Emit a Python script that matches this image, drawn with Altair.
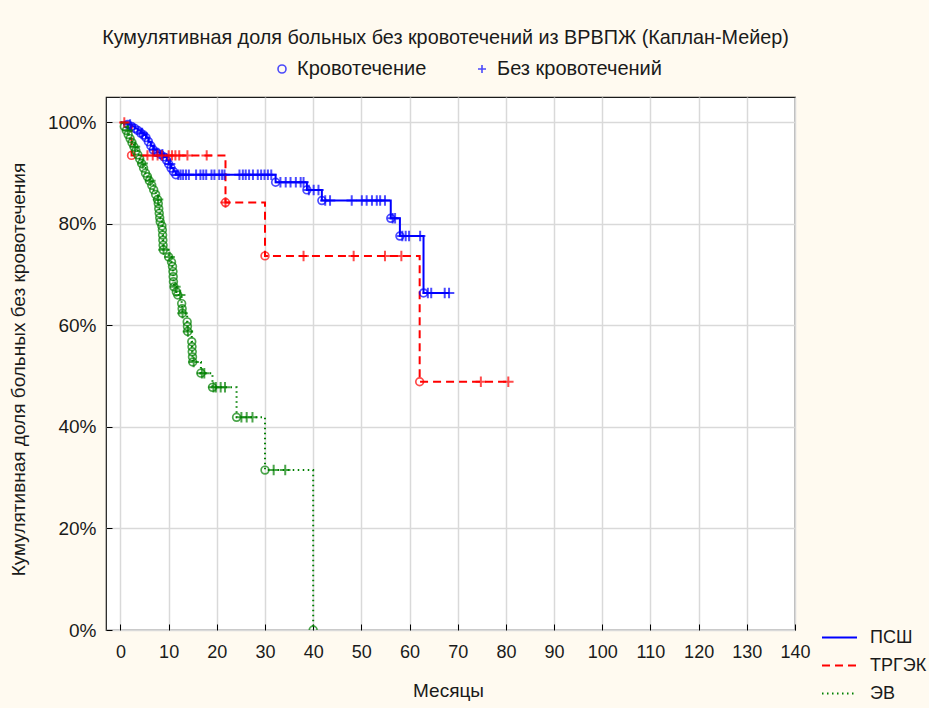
import altair as alt
import pandas as pd

FONT = "Liberation Sans, Arial, sans-serif"

GROUPS = ["ПСШ", "ТРГЭК", "ЭВ"]
COLORS = ["#0000ff", "#ff0000", "#008000"]
DASHES = [[1, 0], [8, 5], [1.5, 3.5]]
KINDS = ["Кровотечение", "Без кровотечений"]
PLUS = "M-1,0H1M0,-1V1"

# ПСШ: bleeding events (month, survival after event) and censored months
psh_event_t = [1.5, 2.3, 3.0, 3.6, 4.2, 4.8, 5.3, 5.8, 6.3, 6.8, 7.5, 8.3, 9.0,
               9.6, 10.0, 10.5, 11.0, 11.5, 32.2, 38.7, 41.8, 56.1, 58.0, 62.9]
psh_event_s = [0.996, 0.992, 0.988, 0.984, 0.979, 0.975, 0.970, 0.962, 0.954,
               0.946, 0.941, 0.937, 0.932, 0.925, 0.918, 0.910, 0.903, 0.897,
               0.882, 0.867, 0.846, 0.811, 0.776, 0.664]
psh_cens_t = [2.0, 4.5, 7.0, 8.7, 10.3, 12.0, 12.5, 13.0, 13.6, 14.2, 15.7, 16.6,
              17.2, 17.8, 18.9, 19.5, 20.5, 21.1, 21.6, 24.7, 25.4, 26.0, 26.7,
              27.5, 28.5, 29.2, 29.9, 30.6, 31.3, 33.2, 34.3, 35.3, 36.4, 37.4,
              38.0, 39.1, 40.1, 41.1, 42.5, 43.5, 48.0, 50.1, 51.1, 52.2, 53.2,
              53.9, 54.9, 56.5, 57.0, 58.5, 59.2, 59.9, 62.2, 63.8, 64.5, 67.3, 68.2]

# ТРГЭК
trg_event_t = [2.3, 21.8, 30.0, 62.1]
trg_event_s = [0.935, 0.842, 0.737, 0.489]
trg_cens_t = [0.8, 5.6, 6.7, 7.7, 8.6, 10.0, 10.7, 11.4, 12.2, 13.9, 17.9, 21.8,
              38.0, 48.4, 54.9, 58.3, 74.8, 80.5]

# ЭВ
ev_event_t = [0.8, 1.2, 1.6, 2.0, 2.4, 2.8, 3.2, 3.6, 4.0, 4.4, 4.8, 5.2, 5.6, 6.0,
              6.5, 6.9, 7.3, 7.7, 7.85, 7.95, 8.05, 8.15, 8.25, 8.6, 8.7, 8.75,
              8.8, 8.85, 8.9, 10.0, 10.6, 10.8, 10.9, 10.95, 11.0, 11.1, 11.6,
              11.9, 12.7, 12.8, 12.85, 13.85, 13.9, 13.95, 14.8, 14.85, 14.9,
              14.95, 15.0, 16.7, 19.1, 24.1, 30.0, 40.0]
ev_event_s = [0.992, 0.984, 0.976, 0.968, 0.960, 0.952, 0.944, 0.936, 0.928,
              0.919, 0.910, 0.900, 0.893, 0.885, 0.876, 0.867, 0.858, 0.848,
              0.840, 0.830, 0.821, 0.812, 0.804, 0.796, 0.788, 0.778, 0.768,
              0.758, 0.749, 0.735, 0.725, 0.716, 0.706, 0.696, 0.686, 0.676,
              0.666, 0.660, 0.643, 0.633, 0.624, 0.607, 0.598, 0.588, 0.568,
              0.558, 0.548, 0.538, 0.528, 0.506, 0.478, 0.419, 0.315, 0.0]
ev_cens_t = [1.5, 3.0, 4.6, 6.2, 7.8, 8.95, 10.2, 11.4, 12.4, 12.9, 14.0, 15.2,
             16.9, 17.4, 19.3, 19.8, 20.8, 21.7, 25.1, 26.2, 27.4, 31.8, 34.2]

series = [
    ("ПСШ", psh_event_t, psh_event_s, psh_cens_t),
    ("ТРГЭК", trg_event_t, trg_event_s, trg_cens_t),
    ("ЭВ", ev_event_t, ev_event_s, ev_cens_t),
]

rows = []
for group, et, es, ct in series:
    obs = [(t, 0, s) for t, s in zip(et, es)]
    for t in ct:
        # a censored case sits on the current level of the step curve
        level = 1.0
        for t_e, s_e in zip(et, es):
            if t_e <= t:
                level = s_e
        obs.append((t, 1, level))
    obs.sort()
    rows.append({"group": group, "month": 0.0, "surv": 1.0, "kind": "start", "idx": 0})
    for i, (t, k, s) in enumerate(obs, start=1):
        rows.append({"group": group, "month": t, "surv": s, "kind": KINDS[k], "idx": i})

df = pd.DataFrame(rows)

x_enc = alt.X("month:Q",
              scale=alt.Scale(domain=[-3, 140], nice=False, zero=False),
              axis=alt.Axis(values=list(range(0, 141, 10)), title="Месяцы",
                            grid=True, gridColor="#d9d9d9", gridWidth=1.5,
                            domain=False, tickColor="#000000", tickSize=6,
                            offset=-6, labelPadding=13, labelFontSize=18,
                            labelFlush=False, labelOverlap=False,
                            labelFont=FONT, labelColor="#1a1a1a",
                            titleFont=FONT, titleFontSize=19,
                            titleFontWeight="normal", titleColor="#1a1a1a",
                            titleX=342, titleY=66, titleAlign="center",
                            titleBaseline="middle"))
y_enc = alt.Y("surv:Q",
              scale=alt.Scale(domain=[0, 1.05], nice=False),
              axis=alt.Axis(values=[0, 0.2, 0.4, 0.6, 0.8, 1.0], format=".0%",
                            title="Кумулятивная доля больных без кровотечения",
                            grid=True, gridColor="#d9d9d9", gridWidth=1.5,
                            domain=False, tickColor="#000000", tickSize=6,
                            offset=-6, labelPadding=10, labelFontSize=19,
                            labelFlush=False, labelOverlap=False,
                            labelFont=FONT, labelColor="#1a1a1a",
                            titleFont=FONT, titleFontSize=19,
                            titleFontWeight="normal", titleColor="#1a1a1a",
                            titleX=-94, titleY=272, titleAngle=270,
                            titleAlign="center", titleBaseline="middle"))

color_scale = alt.Scale(domain=GROUPS, range=COLORS)
shape_scale = alt.Scale(domain=KINDS, range=["circle", PLUS])

lines = alt.Chart(df).mark_line(interpolate="step-after", strokeWidth=2).encode(
    x=x_enc, y=y_enc,
    order=alt.Order("idx:Q"),
    color=alt.Color("group:N", scale=color_scale,
                    legend=alt.Legend(title=None, orient="none", legendX=715,
                                      legendY=522, symbolType="stroke",
                                      symbolSize=1225, symbolStrokeWidth=1.8,
                                      rowPadding=-10, labelFontSize=18,
                                      labelFont=FONT, labelColor="#1a1a1a",
                                      labelOffset=12, labelLimit=300)),
    strokeDash=alt.StrokeDash("group:N", scale=alt.Scale(domain=GROUPS, range=DASHES),
                              legend=alt.Legend(title=None, orient="none",
                                                legendX=715, legendY=522)),
    detail="group:N",
)

shape_legend = alt.Legend(title=None, orient="none", direction="horizontal",
                          legendX=166, legendY=-38, symbolSize=64,
                          symbolStrokeColor="#0000ff", symbolStrokeWidth=1.6,
                          labelFontSize=20, labelFont=FONT, labelColor="#1a1a1a",
                          labelOffset=5, columnPadding=45, labelLimit=300)

# bleeding events: open circles
events = alt.Chart(df).transform_filter(
    alt.datum.kind == KINDS[0]
).mark_point(filled=False, strokeWidth=1.7, size=60, clip=True).encode(
    x="month:Q", y="surv:Q",
    color=alt.Color("group:N", scale=color_scale, legend=None),
    shape=alt.Shape("kind:N", scale=shape_scale, legend=shape_legend),
)

# censored cases: plus signs
censored = alt.Chart(df).transform_filter(
    alt.datum.kind == KINDS[1]
).mark_point(filled=False, strokeWidth=2, size=110, clip=True).encode(
    x="month:Q", y="surv:Q",
    color=alt.Color("group:N", scale=color_scale, legend=None),
    shape=alt.Shape("kind:N", scale=shape_scale, legend=shape_legend),
)

chart = alt.layer(lines, events, censored).properties(
    width=689, height=533,
    title=alt.Title("Кумулятивная доля больных без кровотечений из ВРВПЖ (Каплан-Мейер)",
                    font=FONT, fontSize=19.8, fontWeight="normal", color="#1a1a1a",
                    anchor="middle", offset=11, dx=-5),
    padding={"left": 106, "top": 97, "right": 134, "bottom": 78},
    autosize="none",
    background="#fffaf0",
).configure_view(fill="white", stroke="#1a1a1a", strokeWidth=1.2)

chart.save("out.html", embed_options={"renderer": "svg", "actions": False})
